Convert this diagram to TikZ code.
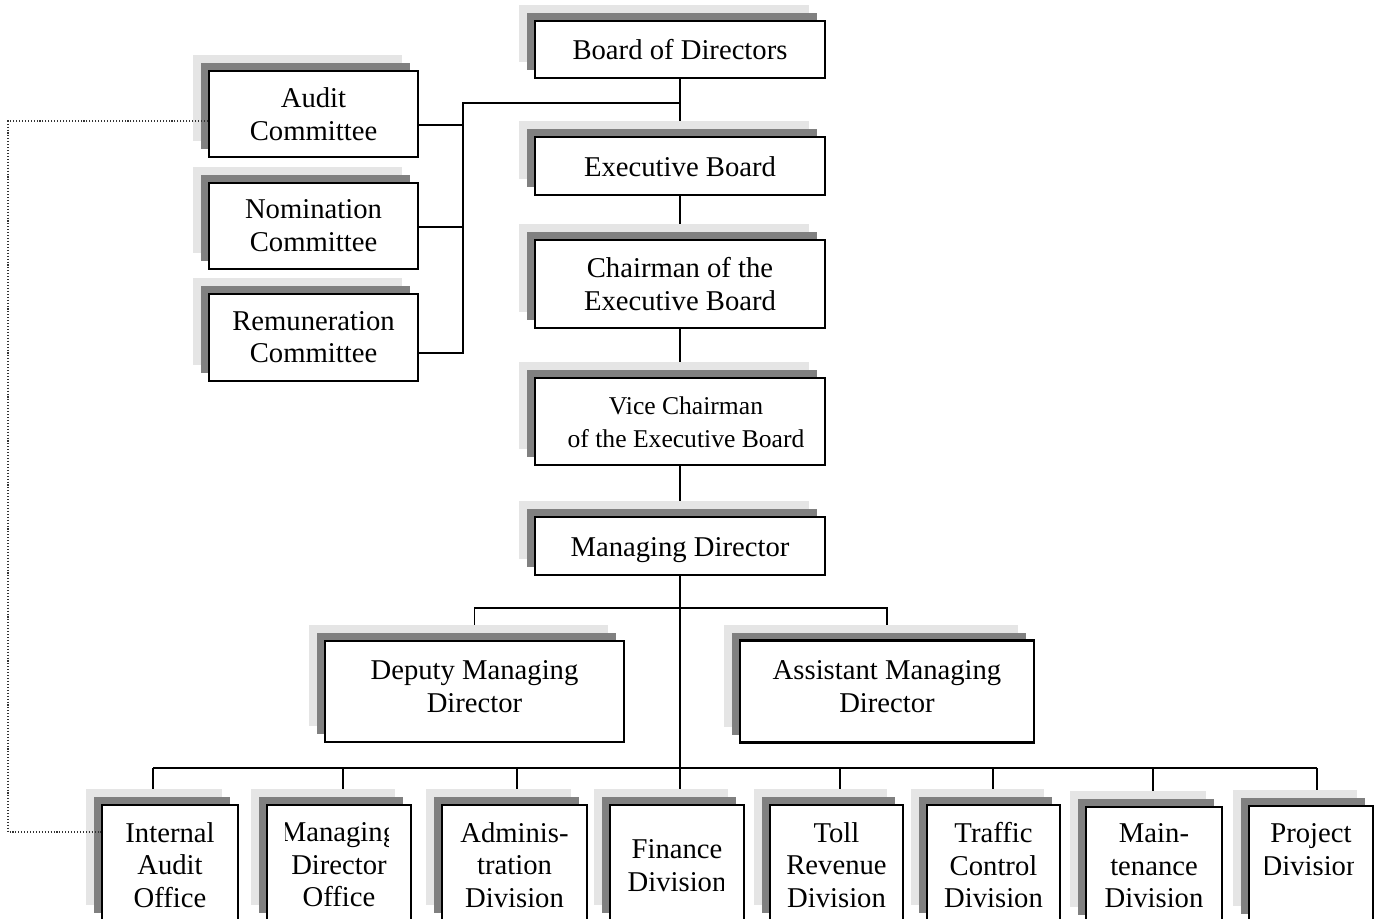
\documentclass[tikz,border=0pt]{standalone}
\usepackage{fontspec}
\setmainfont{Liberation Serif}
\usetikzlibrary{shadows}
\pgfdeclarelayer{background}
\pgfsetlayers{background,main}
\definecolor{shlight}{gray}{0.9}
\definecolor{shdark}{gray}{0.5}
\tikzset{
  orgbox/.style={draw=black, line width=1.9pt, fill=white, inner sep=0pt, align=center,
    font=\fontsize{21.5}{24.4}\selectfont,
    execute at begin node={\rule{0pt}{23pt}}, execute at end node=\strut,
    general shadow={fill=shlight, shadow xshift=-12pt, shadow yshift=12pt},
    general shadow={fill=shdark, shadow xshift=-6pt, shadow yshift=6pt}},
  notshift/.style={execute at begin node=\strut},
  link/.style={line width=1.1pt, draw=black},
  dotlink/.style={line width=0.8pt, draw=black!80, dash pattern=on 0.8pt off 1.4pt},
  divlabel/.style={inner sep=0pt, align=center, anchor=north,
    font=\fontsize{21.5}{24.4}\selectfont, execute at begin node=\strut},
}
% name, x1, x2, ytop, text, first baseline, clip left, clip right
\newcommand\divbox[8]{%
  \node[orgbox, notshift, minimum width={(#3-#2)*0.75pt}, minimum height=87pt] (#1) at ({(#2+#3)/2},{#4+58}) {};
  \begin{scope}
    \clip (#7,#4) rectangle (#8,919);
    \node[divlabel] (#1t) at ({(#2+#3)/2},{#6-22.75}) {#5};
  \end{scope}}
\begin{document}
\begin{tikzpicture}[x=0.75pt,y=-0.75pt]
\useasboundingbox (0,0) rectangle (1381,919);
\begin{pgfonlayer}{background}
  \fill[white] (0,0) rectangle (1381,919);
\end{pgfonlayer}
\clip (0,0) rectangle (1381,919);

% central column
\node[orgbox, minimum width=217.5pt, minimum height=42.75pt, execute at begin node={\rule{0pt}{21.6pt}}] (BoD) at (680,49.5) {Board of Directors};
\node[orgbox, minimum width=217.5pt, minimum height=43.5pt] (EB) at (680,166) {Executive Board};
\node[orgbox, notshift, minimum width=217.5pt, minimum height=66pt] (Chair) at (680,284) {\rule{0pt}{22.3pt}Chairman of the\\Executive Board};
\node[orgbox, notshift, minimum width=217.5pt, minimum height=65.25pt, font=\fontsize{19.2}{24.75}\selectfont] (Vice) at (680,421.5) {\rule{0pt}{22.1pt}\hspace*{9pt}Vice Chairman\\\hspace*{9pt}of the Executive Board};
\node[orgbox, minimum width=217.5pt, minimum height=43.5pt, execute at begin node={\rule{0pt}{21.6pt}}] (MD) at (680,546) {Managing Director};

% committees
\node[orgbox, notshift, minimum width=156.75pt, minimum height=64.5pt] (Aud) at (313.5,114) {\rule{0pt}{22.3pt}Audit\\Committee};
\node[orgbox, notshift, minimum width=156.75pt, minimum height=64.5pt] (Nom) at (313.5,226) {\rule{0pt}{20.8pt}Nomination\\Committee};
\node[orgbox, notshift, minimum width=156.75pt, minimum height=65.25pt] (Rem) at (313.5,337.5) {\rule{0pt}{20.8pt}Remuneration\\Committee};

% deputies
\node[orgbox, notshift, minimum width=224.25pt, minimum height=75.75pt] (Dep) at (474.5,691.5) {Deputy Managing\\Director};
\node[orgbox, notshift, minimum width=220.5pt, minimum height=76.5pt] (Asst) at (887,691.5) {Assistant Managing\\Director};

% divisions
\divbox{IA}{102}{238}{805}{Internal\\Audit\\Office}{845}{121}{219}
\divbox{MDO}{267}{411}{805}{Managing\\Director\\Office}{845}{285}{388}
\divbox{Adm}{442}{587}{805}{Adminis-\\tration\\Division}{845}{459}{570}
\divbox{Fin}{610}{744}{805}{Finance\\Division}{862}{627}{723}
\divbox{Toll}{770}{903}{805}{Toll\\Revenue\\Division}{845}{787}{885}
\divbox{Traf}{927}{1060}{805}{Traffic\\Control\\Division}{845}{941}{1046}
\divbox{Main}{1086}{1222}{807}{Main-\\tenance\\Division}{846}{1101}{1207}
\divbox{Proj}{1249}{1373}{806}{Project\\Division}{846}{1265}{1353}

% connectors
\begin{pgfonlayer}{background}
  \draw[link] (BoD.south) -- (EB.north);
  \draw[link] (EB.south) -- (Chair.north);
  \draw[link] (Chair.south) -- (Vice.north);
  \draw[link] (Vice.south) -- (MD.north);
  \coordinate (cj) at (680,103);
  \coordinate (cbus) at (463,103);
  \coordinate (aH) at ([yshift=-8.25pt]Aud.east);
  \coordinate (nH) at ([yshift=-0.75pt]Nom.east);
  \coordinate (rH) at ([yshift=-11.6pt]Rem.east);
  \draw[link] (cj) -- (cbus) |- (rH);
  \draw[link] (aH) -- (aH -| cbus);
  \draw[link] (nH) -- (nH -| cbus);
  \coordinate (dbus) at (680,608);
  \draw[link] (Dep.north) -- (Dep.north |- dbus) -- (Asst.north |- dbus) -- (Asst.north);
  \coordinate (busL) at (153,768);
  \coordinate (busR) at (1317,768);
  \draw[link] (MD.south) -- (MD.south |- busL);
  \draw[link] (busL) -- (busR);
  \coordinate (bIA) at (153,768);
  \coordinate (bMDO) at (343,768);
  \coordinate (bAdm) at (517,768);
  \coordinate (bFin) at (680,768);
  \coordinate (bToll) at (840,768);
  \coordinate (bTraf) at (993,768);
  \coordinate (bMain) at (1153,768);
  \coordinate (bProj) at (1317,768);
  \draw[link] (bIA) -- (bIA |- IA.north);
  \draw[link] (bMDO) -- (bMDO |- MDO.north);
  \draw[link] (bAdm) -- (bAdm |- Adm.north);
  \draw[link] (bFin) -- (bFin |- Fin.north);
  \draw[link] (bToll) -- (bToll |- Toll.north);
  \draw[link] (bTraf) -- (bTraf |- Traf.north);
  \draw[link] (bMain) -- (bMain |- Main.north);
  \draw[link] (bProj) -- (bProj |- Proj.north);
\end{pgfonlayer}

% dotted audit link
\coordinate (dA) at (8,121);
\coordinate (dB) at (8,832);
\draw[dotlink] (Aud.west |- dA) -- (dA) -- (dB) -- (IA.west |- dB);
\end{tikzpicture}
\end{document}
